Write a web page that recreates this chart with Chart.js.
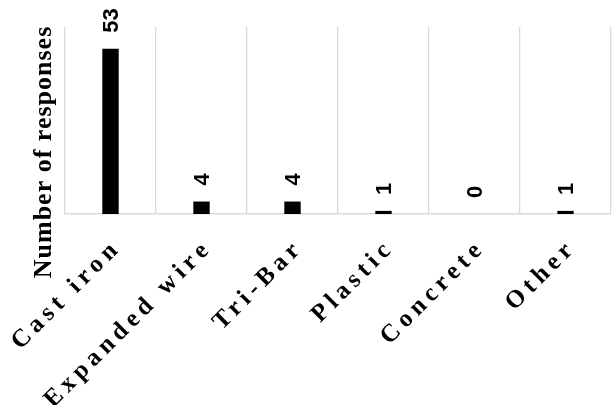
<!DOCTYPE html>
<html lang="en">
<head>
  <meta charset="UTF-8">
  <title>Number of responses</title>
  <script src="https://cdn.jsdelivr.net/npm/chart.js"></script>
  <style>
    body {
      margin: 0;
      background-color: #ffffff;
    }
    .chart-container {
      position: relative;
      width: 613px;
      height: 405px;
    }
  </style>
</head>
<body>
  <div class="chart-container">
    <canvas id="responsesChart"></canvas>
  </div>

  <script>
    const categories = ['Cast iron', 'Expanded wire', 'Tri-Bar', 'Plastic', 'Concrete', 'Other'];
    const responses = [53, 4, 4, 1, 0, 1];
    const yTitle = 'Number of responses';

    const serif = '"Liberation Serif", "Times New Roman", serif';
    const sans = '"Liberation Sans", Arial, sans-serif';

    // labels, rotated category names and axis title drawn by hand
    const textPlugin = {
      id: 'textPlugin',
      afterDraw(chart) {
        const ctx = chart.ctx;
        const x = chart.scales.x;
        const y = chart.scales.y;
        ctx.save();
        ctx.fillStyle = '#000';

        // value labels above the bars
        ctx.font = 'bold 22px ' + sans;
        ctx.textAlign = 'left';
        ctx.textBaseline = 'middle';
        responses.forEach((v, i) => {
          const px = x.getPixelForValue(i);
          const py = y.getPixelForValue(v) - 16;
          ctx.save();
          ctx.translate(px + 1, py);
          ctx.rotate(-Math.PI / 2);
          ctx.fillText(String(v), 0, 0);
          ctx.restore();
        });

        // category labels at -45 degrees
        ctx.font = 'bold 25px ' + serif;
        ctx.letterSpacing = '5px';
        ctx.textAlign = 'right';
        ctx.textBaseline = 'alphabetic';
        categories.forEach((c, i) => {
          const px = x.getPixelForValue(i);
          ctx.save();
          ctx.translate(px + 8, 252);
          ctx.rotate(-Math.PI / 4);
          ctx.fillText(c, 5, 0);
          ctx.restore();
        });

        // y axis title
        ctx.font = 'bold 26px ' + serif;
        ctx.letterSpacing = '1px';
        ctx.textAlign = 'center';
        ctx.textBaseline = 'middle';
        ctx.save();
        ctx.translate(44, 152);
        ctx.rotate(-Math.PI / 2);
        ctx.fillText(yTitle, 0, 0);
        ctx.restore();

        ctx.restore();
      }
    };

    new Chart(document.getElementById('responsesChart'), {
      type: 'bar',
      data: {
        labels: categories,
        datasets: [{
          data: responses,
          backgroundColor: '#000000',
          barPercentage: 0.18,
          categoryPercentage: 1
        }]
      },
      options: {
        responsive: true,
        maintainAspectRatio: false,
        animation: false,
        layout: {
          padding: { left: 65, right: 2, top: 27, bottom: 191 }
        },
        plugins: {
          legend: { display: false },
          tooltip: { enabled: false }
        },
        scales: {
          x: {
            offset: true,
            grid: {
              offset: true,
              color: '#d9d9d9',
              lineWidth: 1.3,
              drawTicks: false
            },
            border: { color: '#d9d9d9', width: 1.5 },
            ticks: { display: false }
          },
          y: {
            display: false,
            min: 0,
            max: 60
          }
        }
      },
      plugins: [textPlugin]
    });
  </script>
</body>
</html>
